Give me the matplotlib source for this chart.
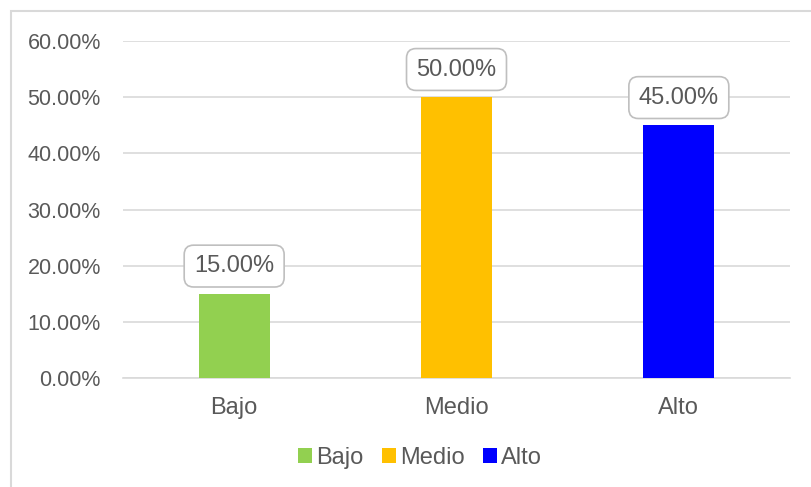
import matplotlib.pyplot as plt
from matplotlib.patches import Rectangle, Patch
from matplotlib.ticker import FuncFormatter

# data
categories = ['Bajo', 'Medio', 'Alto']
values = [15.0, 50.0, 45.0]
colors = ['#92d050', '#ffc000', '#0000ff']

plt.rcParams['font.family'] = ['Liberation Sans', 'DejaVu Sans']
text_color = '#595959'

fig = plt.figure(figsize=(8.11, 4.87), dpi=100)
ax = fig.add_axes([123 / 811, 1 - 378 / 487, 667 / 811, 337 / 487])

x = range(len(categories))
bars = ax.bar(x, values, width=0.32, color=colors, zorder=3)

ax.set_xlim(-0.5, 2.5)
ax.set_ylim(0, 60)
ax.set_yticks(range(0, 61, 10))
ax.yaxis.set_major_formatter(FuncFormatter(lambda v, p: f'{v:.2f}%'))
ax.set_xticks(list(x))
ax.set_xticklabels(categories)
ax.tick_params(axis='y', length=0, labelsize=15.5, colors=text_color, pad=16)
ax.tick_params(axis='x', length=0, labelsize=17, colors=text_color, pad=14)

ax.grid(axis='y', color='#d9d9d9', linewidth=1.2, zorder=0)
for s in ['top', 'right', 'left']:
    ax.spines[s].set_visible(False)
ax.spines['bottom'].set_color('#d9d9d9')
ax.spines['bottom'].set_linewidth(1.2)

# data labels in rounded boxes
for xi, v in zip(x, values):
    ax.annotate(f'{v:.2f}%', (xi, v), xytext=(0, 12), textcoords='offset points',
                ha='center', va='bottom', fontsize=17, color=text_color, zorder=5,
                bbox=dict(boxstyle='round,pad=0.42,rounding_size=0.4',
                          fc='white', ec='#bfbfbf', lw=1.2))

# legend
handles = [Patch(facecolor=c, edgecolor='none', label=l) for c, l in zip(colors, categories)]
leg = fig.legend(handles=handles, loc='center', bbox_to_anchor=(420 / 811, 1 - 458 / 487),
                 ncol=3, frameon=False, fontsize=17, handlelength=0.6, handleheight=0.6,
                 handletextpad=0.15, columnspacing=0.8)
for t in leg.get_texts():
    t.set_color(text_color)

# outer chart border
fig.patches.append(Rectangle((10.5 / 811, -0.1), 1.2, 1 - 10.5 / 487 + 0.1,
                             transform=fig.transFigure, fill=False,
                             edgecolor='#d9d9d9', linewidth=1.5))

fig.savefig('out.png', dpi=100)
